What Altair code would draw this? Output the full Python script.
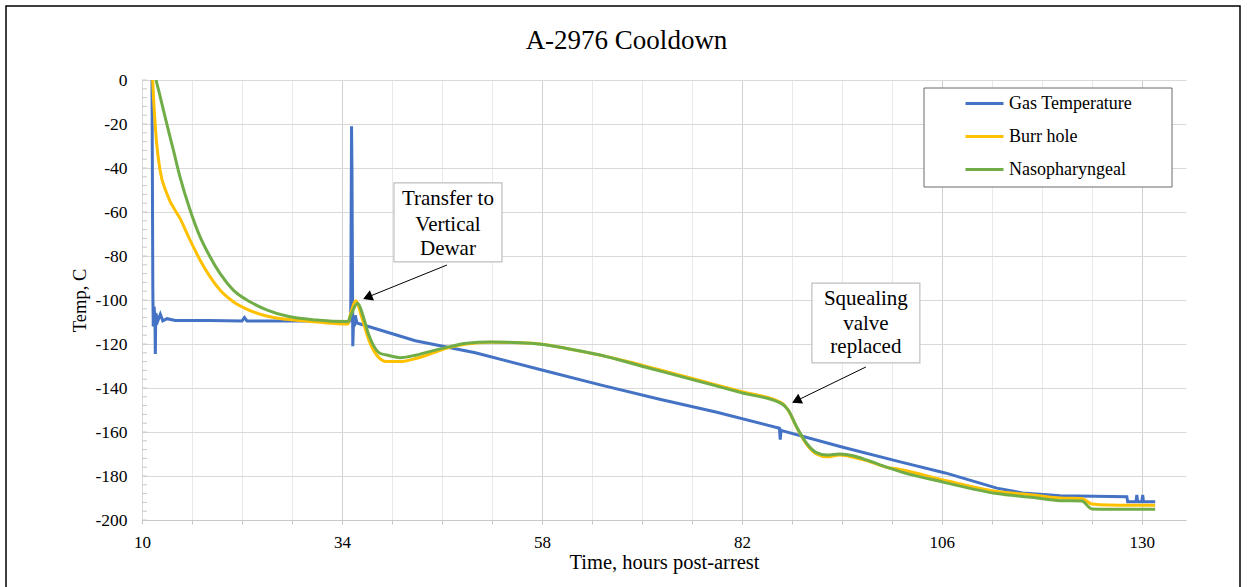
import altair as alt
import pandas as pd

FONT = "Liberation Serif, Times New Roman, serif"

title_text = "A-2976 Cooldown"
series_names = ["Gas Temperature", "Burr hole", "Nasopharyngeal"]
series_colors = ["#4472C4", "#FFC000", "#70AD47"]

gas_t = [11.2, 11.3, 11.35, 11.45, 11.55, 11.6, 11.65, 11.9, 12.2, 12.5, 13.0, 14.0, 18.0, 22.0, 22.3, 22.6,
         26.0, 30.0, 34.8, 35.05, 35.15, 35.2, 35.3, 35.4, 35.5, 35.6, 35.8, 36.3, 42.8, 50.0, 58.0, 65.0,
         72.0, 79.0, 86.5, 86.6, 86.7, 86.8, 94.0, 101.0, 106.4, 112.6, 115.7, 120.2, 128.2, 128.3, 129.3,
         129.4, 129.5, 130.0, 130.1, 130.2, 131.6]
gas_v = [0, -95, -112, -103, -108, -124.5, -106, -109.5, -106.5, -109.5, -108.5, -109.3, -109.3, -109.5, -108,
         -109.5, -109.5, -109.6, -110.2, -109, -21, -40, -121, -108, -112, -107, -110.5, -111, -118.5, -124,
         -131.8, -138.6, -145, -151, -158.3, -163.5, -159.2, -159.4, -166.8, -173.6, -178.6, -185.5, -187.7,
         -189, -189.4, -191.7, -191.7, -188.6, -191.7, -191.7, -188.6, -191.7, -191.7]

burr_t = [11.28, 11.4, 11.76, 12.16, 12.96, 14.64, 15.76, 16.96, 18.16, 19.36, 20.96, 22.96, 24.96, 27.36,
          30.96, 34.7, 35.0, 35.64, 36.36, 36.96, 37.56, 38.16, 39.36, 41.0, 42.96, 44.96, 46.96, 48.96, 51.76,
          56.96, 60.96, 64.96, 70.0, 76.96, 82.0, 86.8, 87.56, 88.56, 89.76, 90.96, 92.16, 93.76, 95.36, 96.96,
          99.36, 101.0, 106.4, 112.6, 117.0, 120.2, 122.8, 124.0, 126.0, 131.6]
burr_v = [0, -9, -28.8, -40.9, -51.5, -63.5, -72.7, -81.8, -89.4, -95.5, -100.8, -104.8, -107.3, -108.8,
          -110.0, -110.9, -106.8, -100.3, -107.6, -115.2, -121.2, -125.0, -128.0, -128.0, -126.5, -124.0,
          -121.5, -120.0, -119.2, -119.7, -122.0, -125.0, -129.6, -136.6, -141.7, -146.8, -150.2, -157.8,
          -165.6, -170.0, -171.3, -170.5, -171.5, -173.0, -176.0, -177.0, -182.0, -187.0, -188.6, -190.0,
          -190.2, -192.7, -193.2, -193.3]

naso_t = [11.68, 12.08, 12.96, 13.76, 14.56, 15.76, 16.96, 18.16, 19.36, 20.96, 22.96, 24.96, 27.36, 30.96,
          34.7, 35.0, 35.88, 36.56, 37.16, 37.76, 38.56, 39.36, 41.0, 42.96, 44.96, 46.96, 48.96, 51.76, 56.96,
          60.96, 64.96, 70.0, 76.96, 82.0, 86.8, 87.56, 88.56, 89.76, 90.96, 92.16, 93.76, 95.36, 96.96, 99.36,
          101.0, 106.4, 112.6, 117.0, 120.2, 122.8, 124.0, 126.0, 131.6]
naso_v = [0, -6, -19.7, -31.8, -44, -59, -71.2, -80.3, -87.9, -95.5, -100.8, -104.5, -107.3, -109.1, -109.8,
          -107.5, -101.5, -107.6, -115.2, -120.5, -124.2, -125.0, -126.2, -125.0, -123.0, -121.2, -119.7,
          -119.1, -119.8, -122.0, -125.0, -130.1, -137.1, -142.2, -147.2, -150.0, -157.6, -165.1, -169.4,
          -170.5, -170.0, -170.8, -172.7, -176.0, -178.0, -183.0, -188.0, -189.8, -191.2, -191.4, -195.0,
          -195.1, -195.1]

x_ticks = list(range(10, 131, 6))
x_labels = [10, 34, 58, 82, 106, 130]
y_labels = list(range(-200, 1, 20))
y_minor = list(range(-200, 1, 4))

# annotations
ann_box_x1 = [40.24, 90.4]
ann_box_x2 = [53.2, 103.36]
ann_box_y1 = [-46.8, -92.3]
ann_box_y2 = [-82.7, -128.6]
ann_lines = ["Transfer to", "Vertical", "Dewar", "Squealing", "valve", "replaced"]
ann_line_x = [46.72, 46.72, 46.72, 96.88, 96.88, 96.88]
ann_line_y = [-56.8, -68.5, -79.5, -102.3, -113.6, -124.2]
arrow_x_from = [46.6, 96.88]
arrow_y_from = [-84.1, -130.45]
arrow_x_to = [37.07, 88.54]
arrow_y_to = [-98.7, -145.8]
arrow_angle = [248, 244]


def frame_of(items):
    rows = []
    for name, ts, vs in items:
        for i, (t, v) in enumerate(zip(ts, vs)):
            rows.append({"series": name, "t": t, "v": v, "i": i})
    return pd.DataFrame(rows)


df_gas = frame_of([(series_names[0], gas_t, gas_v)])
df_probe = frame_of([(series_names[1], burr_t, burr_v), (series_names[2], naso_t, naso_v)])

W, H = 1044, 440
xscale = alt.Scale(domain=[10, 135.3], nice=False, zero=False)
yscale = alt.Scale(domain=[-200, 0], nice=False, zero=False)
cscale = alt.Scale(domain=series_names, range=series_colors)

x_axis = alt.Axis(
    values=x_ticks,
    labelExpr="datum.value % 24 === 10 ? '' + datum.value : ''",
    gridColor={"condition": {"test": "datum.value % 24 === 10", "value": "#d0d0d0"}, "value": "#e9e9e9"},
    tickColor="#c8c8c8", tickSize=4, labelPadding=10, domainColor="#c8c8c8", labelFlush=False,
    labelFontSize=17, labelFont=FONT, labelColor="black",
    title="Time, hours post-arrest", titleFontSize=20.5, titleFont=FONT, titleFontWeight="normal",
    titleColor="black", titleY=48, titleBaseline="alphabetic",
)
y_axis = alt.Axis(
    values=y_labels, labelExpr="'' + datum.value", ticks=False, labelPadding=15, labelFlush=False,
    gridColor="#d9d9d9", domainColor="#d9d9d9",
    labelFontSize=17.5, labelFont=FONT, labelColor="black",
    title="Temp, C", titleFontSize=18.5, titleFont=FONT, titleFontWeight="normal", titleColor="black",
    titleX=-63, titleBaseline="middle",
)
legend = alt.Legend(orient="none", legendX=822, legendY=3, title=None,
                    symbolType="stroke", symbolSize=1444, symbolStrokeWidth=3,
                    labelFontSize=18, labelFont=FONT, labelColor="black",
                    labelOffset=4, rowPadding=3, padding=0)

gas_line = alt.Chart(df_gas).mark_line(strokeWidth=3, clip=True).encode(
    x=alt.X("t:Q", scale=xscale, axis=x_axis),
    y=alt.Y("v:Q", scale=yscale, axis=y_axis),
    color=alt.Color("series:N", scale=cscale, legend=legend),
    order="i:Q",
)
probe_lines = alt.Chart(df_probe).mark_line(strokeWidth=3, clip=True, interpolate="monotone").encode(
    x=alt.X("t:Q", scale=xscale),
    y=alt.Y("v:Q", scale=yscale),
    color=alt.Color("series:N", scale=cscale, legend=legend),
    order="i:Q",
)

minor = alt.Chart(pd.DataFrame({"y": y_minor})).mark_rule(color="#c8c8c8", strokeWidth=1).encode(
    y=alt.Y("y:Q", scale=yscale), x=alt.value(0), x2=alt.value(5))

one = pd.DataFrame({"k": [1]})
frame = alt.Chart(one).mark_rect(fill="white", fillOpacity=0, stroke="black", strokeWidth=1.5).encode(
    x=alt.value(-136), x2=alt.value(1098), y=alt.value(-74), y2=alt.value(560))
legend_box = alt.Chart(one).mark_rect(fill="white", stroke="#6b6b6b", strokeWidth=1).encode(
    x=alt.value(782), x2=alt.value(1030), y=alt.value(8), y2=alt.value(107))
title = alt.Chart(pd.DataFrame({"text": [title_text]})).mark_text(
    font=FONT, fontSize=27, color="black", align="center", baseline="alphabetic").encode(
    text="text:N", x=alt.value(484.5), y=alt.value(-31))

boxes = alt.Chart(pd.DataFrame({"x1": ann_box_x1, "x2": ann_box_x2, "y1": ann_box_y1, "y2": ann_box_y2})
                  ).mark_rect(fill="white", stroke="#bfbfbf", strokeWidth=1.2).encode(
    x=alt.X("x1:Q", scale=xscale), x2="x2:Q",
    y=alt.Y("y1:Q", scale=yscale), y2="y2:Q")
texts = alt.Chart(pd.DataFrame({"x": ann_line_x, "y": ann_line_y, "text": ann_lines})).mark_text(
    font=FONT, fontSize=21, color="black", align="center", baseline="alphabetic").encode(
    x=alt.X("x:Q", scale=xscale), y=alt.Y("y:Q", scale=yscale), text="text:N")
arrows = alt.Chart(pd.DataFrame({"x": arrow_x_from, "y": arrow_y_from, "x2": arrow_x_to, "y2": arrow_y_to})
                   ).mark_rule(color="black", strokeWidth=1).encode(
    x=alt.X("x:Q", scale=xscale), y=alt.Y("y:Q", scale=yscale), x2="x2:Q", y2="y2:Q")
heads = alt.Chart(pd.DataFrame({"x": arrow_x_to, "y": arrow_y_to, "a": arrow_angle})).mark_point(
    shape="triangle-up", filled=True, color="black", size=120, opacity=1).encode(
    x=alt.X("x:Q", scale=xscale), y=alt.Y("y:Q", scale=yscale),
    angle=alt.Angle("a:Q", scale=None))

chart = alt.layer(frame, gas_line, probe_lines, minor, legend_box, boxes, texts, arrows, heads, title
                  ).properties(
    width=W, height=H,
    autosize=alt.AutoSizeParams(type="none"),
    padding={"left": 142, "top": 80, "right": 61, "bottom": 67},
    background="white",
).configure(
    font=FONT,
    style={"guide-label": {"font": FONT, "fill": "black"},
           "guide-title": {"font": FONT, "fill": "black"}},
).configure_view(stroke=None).configure_axis(
    labelFont=FONT, titleFont=FONT, labelColor="black", titleColor="black",
    titleFontWeight="normal"
).configure_legend(labelFont=FONT).configure_text(font=FONT)

chart.save("out.html", embed_options={"renderer": "svg", "actions": False})
